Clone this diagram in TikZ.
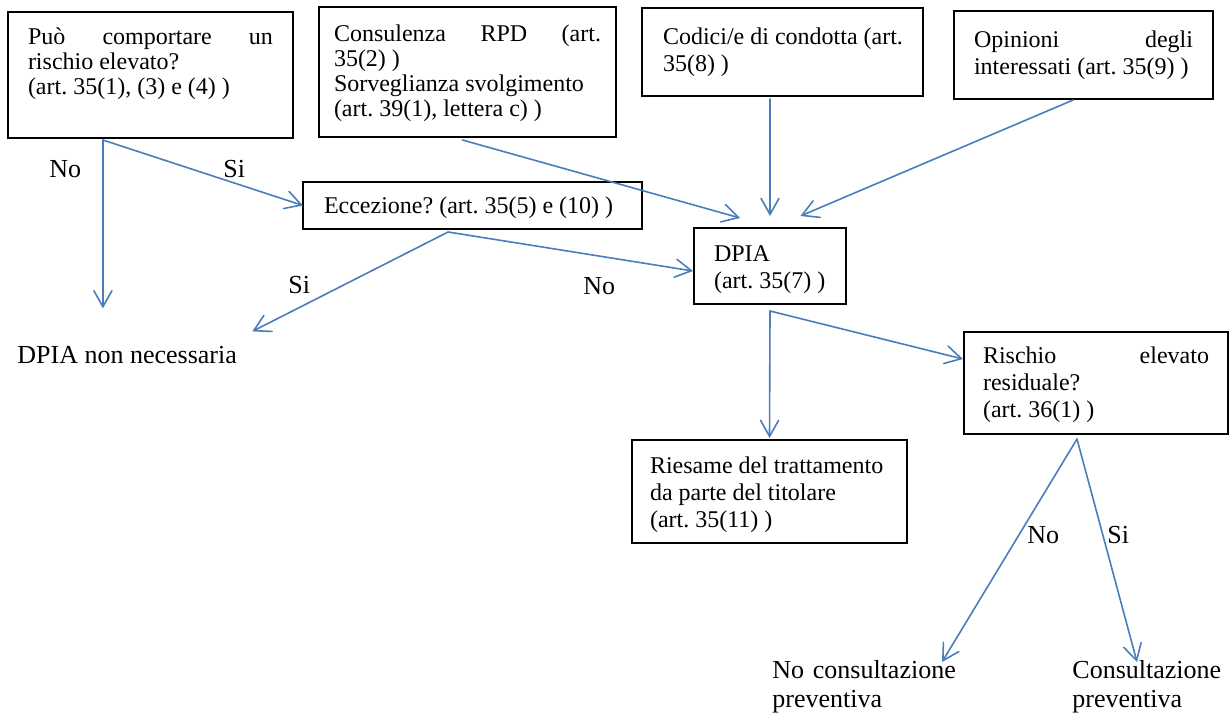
\documentclass[tikz,border=0pt]{standalone}
\usepackage{fontspec}
\setmainfont{Liberation Serif}
\usepackage{tikz}
\usetikzlibrary{arrows.meta,calc}
\definecolor{wordblue}{HTML}{4A7EBB}
\frenchspacing
\hyphenpenalty=10000
\newcommand\jline[1]{\leavevmode\hbox to\hsize{\spaceskip=.25em plus 1fil\relax #1}}% justified line

\begin{document}
\begin{tikzpicture}[x=0.5pt,y=-0.5pt,
    box/.style={draw,line width=0.6pt,anchor=north west,inner ysep=0pt,outer sep=0pt,
        align=left,font=\fontsize{12}{13.5}\selectfont,
        execute at begin node={\spaceskip=0pt\xspaceskip=0pt\relax}},
    lbl/.style={anchor=base west,inner sep=0pt,align=left,font=\fontsize{13}{14.5}\selectfont},
    conn/.style={draw=wordblue,line width=0.8pt,line cap=round,
        -{Straight Barb[length=8pt,width=9pt,line cap=round]}}]
    \useasboundingbox (0,0) rectangle (1229,713);
    % boxes
    \node[box,inner xsep=10pt,text width=122.5pt,text height=16pt,text depth=47pt,
        font=\fontsize{12}{12.5}\selectfont] (rischio) at (8,12)
        {\jline{Può comportare un}\\rischio elevato?\\(art. 35(1), (3) e (4) )};
    \node[box,inner xsep=7.5pt,text width=133.5pt,text height=17pt,text depth=48pt,
        font=\fontsize{12}{12.5}\selectfont] (rpd) at (319,7)
        {\jline{Consulenza RPD (art.}\\35(2) )\\Sorveglianza svolgimento\\(art. 39(1), lettera c) )};
    \node[box,inner xsep=10.5pt,text width=119.5pt,text height=18pt,text depth=26pt] (codici) at (642,8)
        {\jline{Codici/e di condotta (art.}\\35(8) )};
    \node[box,inner xsep=10pt,text width=109.5pt,text height=18pt,text depth=26pt] (opinioni) at (954,11)
        {\jline{Opinioni degli}\\interessati (art. 35(9) )};
    \node[box,inner xsep=10.5pt,text width=148.5pt,text height=15.5pt,text depth=8pt] (eccezione) at (303,182)
        {Eccezione? (art. 35(5) e (10) )};
    \node[box,inner xsep=10pt,text width=56pt,text height=16.5pt,text depth=21.5pt] (dpia) at (694,228)
        {DPIA\\(art. 35(7) )};
    \node[box,inner xsep=9pt,text width=119.5pt,text height=16.5pt,text depth=35pt] (riesame) at (632,440)
        {Riesame del trattamento\\da parte del titolare\\(art. 35(11) )};
    \node[box,inner xsep=9.5pt,text width=113pt,text height=15.5pt,text depth=35.5pt] (residuo) at (964,332)
        {\jline{Rischio elevato}\\residuale?\\(art. 36(1) )};
    % labels
    \node[lbl] (no1) at (49,177) {No};
    \node[lbl] (si1) at (223,177) {Si};
    \node[lbl] (si2) at (288,293) {Si};
    \node[lbl] (no2) at (583,294) {No};
    \node[lbl] (nonnec) at (17,363) {DPIA non necessaria};
    \node[lbl] (no3) at (1027,543) {No};
    \node[lbl] (si3) at (1107,543) {Si};
    \node[lbl,text width=100pt] (nocons) at (772,678) {No consultazione\\preventiva};
    \node[lbl,text width=78pt] (cons) at (1072,678) {Consultazione\\preventiva};
    % connectors
    \coordinate (rischioout) at ($(rischio.south west)!0.333!(rischio.south east)+(0,2)$);
    \coordinate (eccout) at ($(eccezione.south west)!0.428!(eccezione.south east)+(0,3)$);
    \coordinate (dpiaout) at ($(dpia.south)+(0,7)$);
    \coordinate (residuoout) at ($(residuo.south west)!0.428!(residuo.south east)+(0,5)$);
    \draw[conn] (rischioout) -- ([yshift=18.5pt]rischioout |- nonnec.north);
    \draw[conn] (rischioout) -- (eccezione.west);
    \draw[conn] ($(rpd.south west)!0.483!(rpd.south east)+(0,3)$) -- ($(dpia.north west)!0.303!(dpia.north east)+(0,-10)$);
    \draw[conn] ([yshift=-1.5pt]codici.south -| dpia.north) -- ([yshift=6pt]dpia.north);
    \draw[conn] ($(opinioni.south west)!0.46!(opinioni.south east)+(0,1)$) -- ($(dpia.north west)!0.7!(dpia.north east)+(0,-12)$);
    \draw[conn] (eccout) -- ($(dpia.west)+(-1,5)$);
    \draw[conn] (eccout) -- ($(nonnec.north east)+(15,-14)$);
    \draw[conn] (dpiaout) -- ($(riesame.north)+(0,-2)$);
    \draw[conn] (dpiaout) -- ($(residuo.north west)!0.265!(residuo.south west)+(-1,0)$);
    \draw[conn] (residuoout) -- ($(nocons.base west)+(170,-16)$);
    \draw[conn] (residuoout) -- ($(cons.base west)+(65,-16)$);
\end{tikzpicture}
\end{document}
